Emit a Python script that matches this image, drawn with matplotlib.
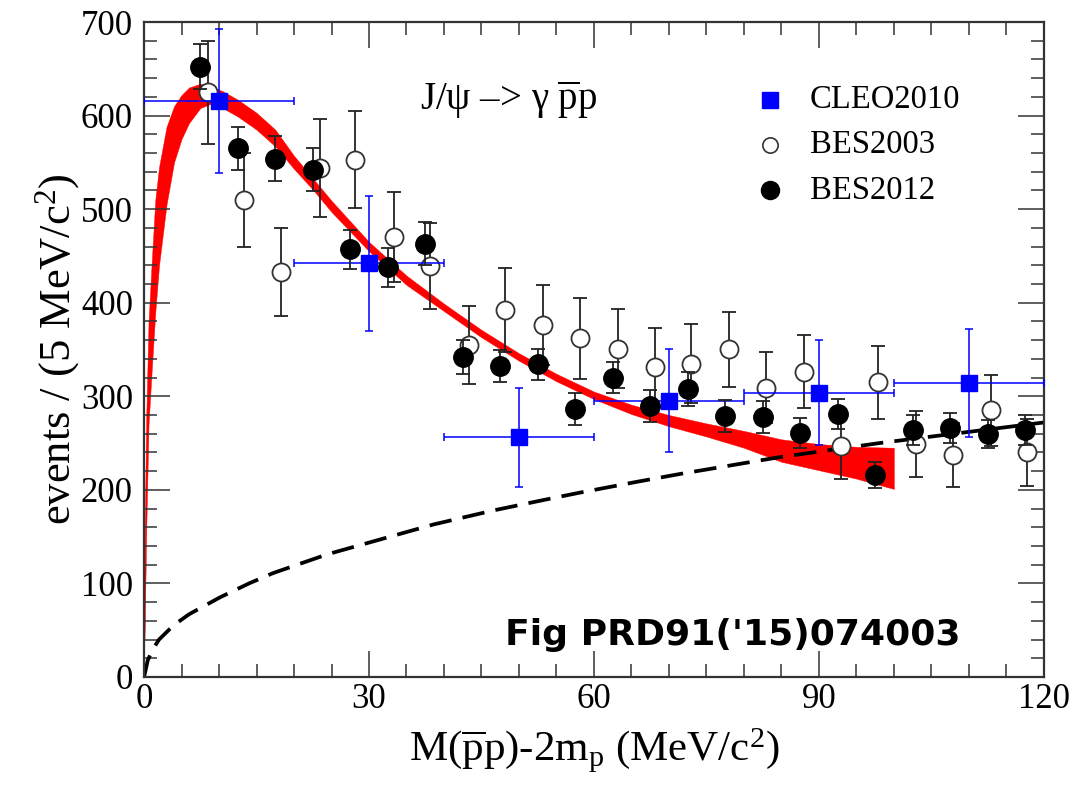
import numpy as np
import matplotlib
matplotlib.use("Agg")
import matplotlib.pyplot as plt
from matplotlib.ticker import MultipleLocator

plt.rcParams['font.family'] = ['Liberation Serif', 'DejaVu Serif']
plt.rcParams['mathtext.fontset'] = 'custom'
plt.rcParams['mathtext.rm'] = 'Liberation Serif'
plt.rcParams['mathtext.it'] = 'Liberation Serif:italic'

# BES2012 (filled circles)
bes12_x = [7.5, 12.5, 17.5, 22.5, 27.5, 32.5, 37.5, 42.5, 47.5, 52.5, 57.5, 62.5,
           67.5, 72.5, 77.5, 82.5, 87.5, 92.5, 97.5, 102.5, 107.5, 112.5, 117.5]
bes12_y = [652, 565, 554, 542, 457, 438, 463, 342, 332, 334, 286, 320,
           290, 308, 279, 278, 261, 281, 216, 264, 266, 260, 264]
bes12_err = [24, 23, 24, 23, 21, 21, 23, 18, 17, 17, 17, 17,
             17, 18, 17, 17, 16, 16, 14, 16, 16, 15, 16]

# BES2003 (open circles)
bes03_x = [8.5, 13.3, 18.3, 23.5, 28.1, 33.3, 38.1, 43.3, 48.1, 53.2, 58.1, 63.2,
           68.1, 72.9, 78.0, 83.0, 88.0, 92.9, 97.9, 102.9, 107.9, 112.9, 117.7]
bes03_y = [625, 510, 433, 544, 553, 470, 439, 355, 392, 376, 362, 351,
           331, 335, 350, 309, 326, 247, 315, 249, 237, 285, 240]
bes03_err = [55, 50, 47, 52, 52, 48, 46, 42, 45, 43, 43, 42,
             42, 42, 40, 38, 39, 35, 39, 35, 34, 38, 36]

# CLEO2010 (blue squares)
cleo_x = [10, 30, 50, 70, 90, 110]
cleo_y = [616, 442, 256, 295, 304, 314]
cleo_yerr = [77, 72, 53, 55, 56, 58]
cleo_xerr = [10, 10, 10, 10, 10, 10]

# fit band (red)
band_x = [0.05, 0.1, 0.3, 0.6, 1.0, 1.5, 2.0, 3.0, 4.0, 5.0, 6.0, 7.5, 9.0, 10.5, 12.5,
          15, 17.5, 20, 22.5, 25, 30, 35, 40, 45, 50, 55, 60, 65, 70, 75, 80,
          85, 90, 95, 100]
band_hi = [100, 165, 280, 380, 440, 510, 545, 588, 610, 622, 630, 634, 631, 626, 617,
           603, 585, 557, 533, 509, 465, 429, 399, 371, 346, 324, 305, 291, 280, 271, 263,
           254, 249, 246, 245]
band_lo = [40, 60, 160, 270, 325, 390, 440, 505, 550, 575, 592, 608, 613, 608, 599,
           585, 567, 543, 521, 497, 455, 419, 391, 363, 338, 316, 297, 281, 268, 257, 245,
           230, 221, 212, 201]

# background (dashed)
bkg_x = [0, 0.5, 1.2, 2.0, 3.9, 6.0, 10.1, 14.0, 17.2, 24.4, 31.5, 38.6, 46.6, 53.2,
         58.1, 66.0, 71.5, 84.8, 98.1, 114.0, 120]
bkg_y = [0, 18, 30, 40, 55, 67, 85, 100, 111, 131, 147, 163, 178, 189,
         197, 209, 217, 235, 250, 266, 272]

fig = plt.figure(figsize=(10.75, 7.86), dpi=100)
ax = fig.add_axes([0.134, 0.1387, 0.837, 0.8333])

ax.fill_between(band_x, band_lo, band_hi, color='#ff0000', lw=0.3, zorder=1)
ax.plot(bkg_x, bkg_y, color='black', lw=2.7, dashes=(6.0, 3.0), zorder=2)

ax.errorbar(bes03_x, bes03_y, yerr=bes03_err, fmt='o', ms=13, mfc='white', mec='#333333',
            mew=1.3, ecolor='#222222', elinewidth=1.3, capsize=5, capthick=1.3, zorder=3)
ax.errorbar(cleo_x, cleo_y, yerr=cleo_yerr, xerr=cleo_xerr, fmt='s', ms=12, color='#0000ff',
            elinewidth=1.1, capsize=3, capthick=1.1, zorder=4)
ax.errorbar(bes12_x, bes12_y, yerr=bes12_err, fmt='o', ms=14, color='black',
            ecolor='#222222', elinewidth=1.3, capsize=5, capthick=1.3, zorder=5)

ax.set_xlim(0, 120)
ax.set_ylim(0, 700)
ax.xaxis.set_major_locator(MultipleLocator(30))
ax.xaxis.set_minor_locator(MultipleLocator(5))
ax.yaxis.set_major_locator(MultipleLocator(100))
ax.yaxis.set_minor_locator(MultipleLocator(20))
ax.tick_params(which='both', direction='in', top=True, right=True, width=1.1, color='#333333')
ax.tick_params(which='major', length=19, labelsize=25)
ax.tick_params(which='minor', length=9.5)
ax.tick_params(axis='y', pad=8)
ax.tick_params(axis='x', pad=4)
for s in ax.spines.values():
    s.set_linewidth(1.6)
    s.set_color('#333333')

ax.set_xlabel(r'M($\overline{\mathrm{p}}$p)-2m$_{\mathrm{p}}$ (MeV/c$^{2}$)', fontsize=31, labelpad=8)
ax.set_ylabel(r'events / (5 MeV/c$^{2}$)', fontsize=32, labelpad=-1)

ax.text(0.307, 0.881, r'J/ψ –> γ $\overline{\mathrm{p}}$p', transform=ax.transAxes,
        fontsize=28, va='center', ha='left')

# legend drawn by hand
leg_y = [0.881, 0.812, 0.743]
ax.plot([0.696], [leg_y[0]], 's', ms=11, color='#0000ff', transform=ax.transAxes, clip_on=False)
ax.plot([0.696], [leg_y[1]], 'o', ms=11, mfc='white', mec='#333333', mew=1.2,
        transform=ax.transAxes, clip_on=False)
ax.plot([0.696], [leg_y[2]], 'o', ms=13, color='black', transform=ax.transAxes, clip_on=False)
for lab, yy in zip(['CLEO2010', 'BES2003', 'BES2012'], leg_y):
    ax.text(0.74, yy, lab, transform=ax.transAxes, fontsize=23.5, va='center', ha='left')

ax.text(0.401, 0.049, "Fig PRD91('15)074003", transform=ax.transAxes, fontsize=26,
        fontweight='bold', family=['DejaVu Sans'], va='baseline', ha='left')

plt.savefig('out.png', dpi=100)
